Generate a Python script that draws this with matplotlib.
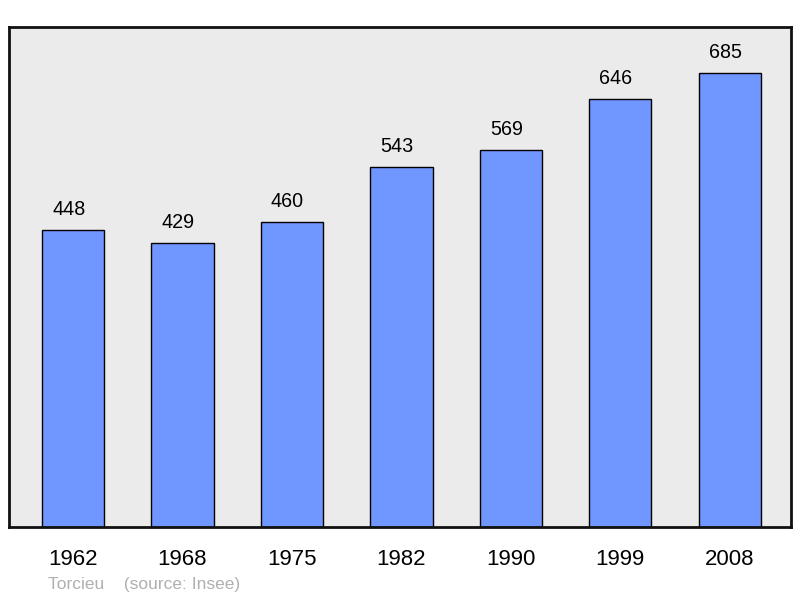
import matplotlib
matplotlib.use("Agg")
import matplotlib.pyplot as plt

annees = ["1962", "1968", "1975", "1982", "1990", "1999", "2008"]
population = [448, 429, 460, 543, 569, 646, 685]

plt.rcParams["font.family"] = ["Liberation Sans", "DejaVu Sans"]

fig = plt.figure(figsize=(8, 5.98), dpi=100)
ax = fig.add_axes([9 / 800, 1 - 527 / 598, 782 / 800, 500 / 598])
ax.set_facecolor("#ebebeb")

x = list(range(len(annees)))
ax.bar(x, population, width=0.57, color="#7097ff", edgecolor="black", linewidth=1.0)

# les etiquettes sont un peu decalees a gauche dans l'original
for xi, v in zip(x, population):
    ax.text(xi - 0.04, v + 17, str(v), ha="center", va="bottom", fontsize=14.2)

ax.set_xlim(-0.585, 6.56)
ax.set_ylim(0, 755)
ax.set_yticks([])
ax.set_xticks(x)
ax.set_xticklabels(annees, fontsize=16)
ax.tick_params(axis="x", length=0, pad=16)
for s in ax.spines.values():
    s.set_linewidth(2)
    s.set_color("#111111")

fig.text(48 / 800, 1 - 584 / 598, "Torcieu    (source: Insee)", fontsize=12.5,
         color="#b0b0b0", va="center", ha="left")

fig.savefig("out.png", dpi=100)
